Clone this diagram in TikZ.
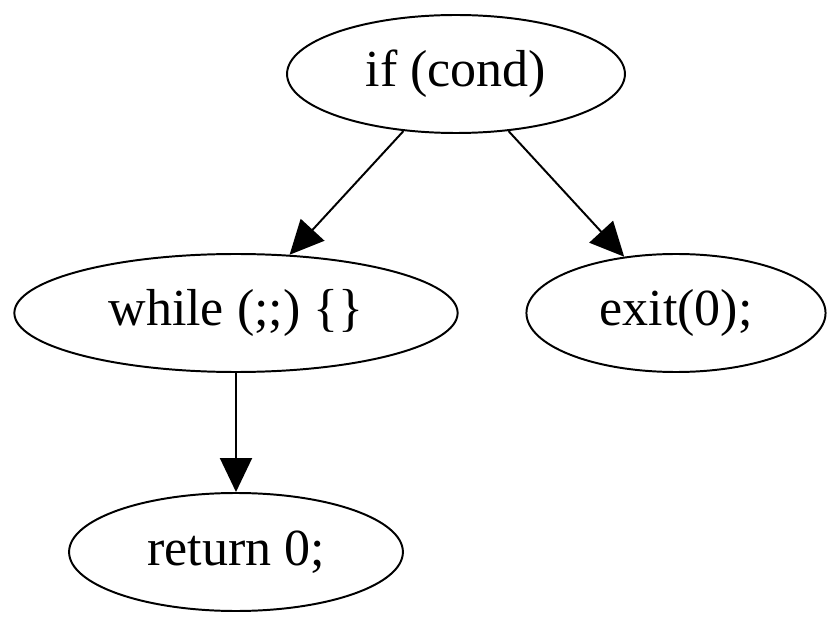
\documentclass[tikz,border=0pt]{standalone}
\usepackage{fontspec}
\setmainfont{Liberation Serif}
\usetikzlibrary{shapes.geometric, arrows.meta, positioning}
\tikzstyle{stmt} = [ellipse, minimum height = 2.95cm, inner xsep = 0.73cm, inner ysep = 0pt, text centered, draw = black, line width = 1.4pt, font = \fontsize{37}{44}\selectfont]
\tikzstyle{arrow} = [line width = 1.4pt, -{Triangle[length = 0.85cm, width = 0.8cm]}]

\begin{document}
\begin{tikzpicture}[node distance = 5.975cm and 5.5cm, on grid]
    \useasboundingbox (0,0) rectangle (21,-15.65);
    % \node(label)[style]{text};
    \node(ifc)[stmt] at (11.4,-1.85){if (cond)};
    \node(loop)[stmt, below left = of ifc]{while (;;) \{\}};
    \node(quit)[stmt, below right = of ifc]{exit(0);};
    \node(ret)[stmt, below = of loop]{return 0;};

    \draw[arrow](ifc)--(loop);
    \draw[arrow](ifc)--(quit);
    \draw[arrow](loop)--(ret);
\end{tikzpicture}
\end{document}
